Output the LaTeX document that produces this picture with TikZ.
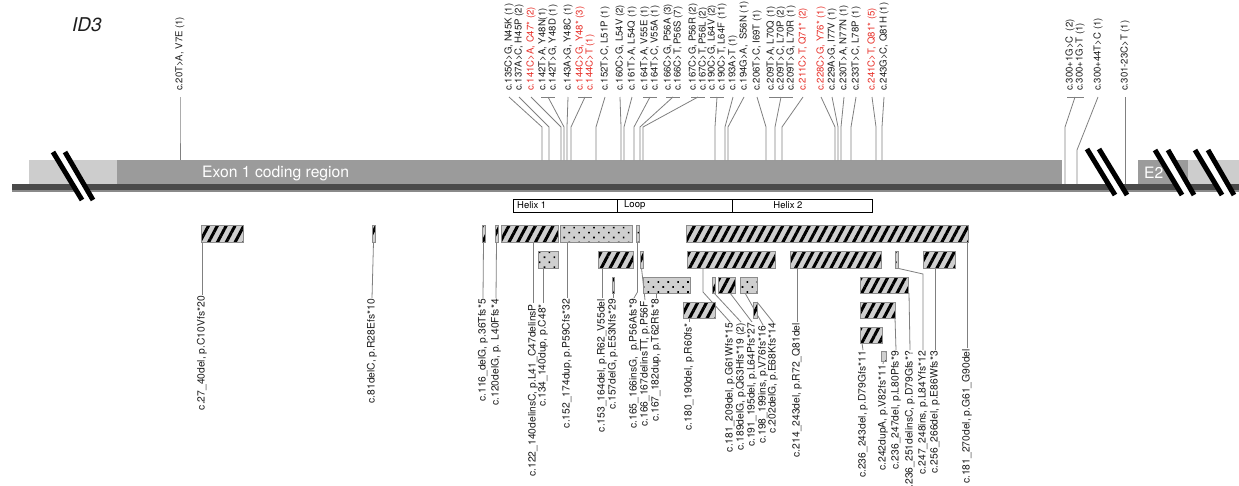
\documentclass[tikz,border=0pt]{standalone}
\usepackage{fontspec}
\setmainfont{TeX Gyre Heros}
\usetikzlibrary{patterns.meta,calc}
\definecolor{bandD}{HTML}{9B9B9B}
\definecolor{bandL}{HTML}{CDCDCD}
\definecolor{baseC}{HTML}{4A4A4A}
\definecolor{baseL}{HTML}{8A8A8A}
\definecolor{leadC}{HTML}{808080}
\definecolor{labC}{HTML}{1E1E1E}
\definecolor{redC}{HTML}{E8312A}
\definecolor{boxF}{HTML}{CFCFCF}
\definecolor{boxB}{HTML}{8C8C8C}
\begin{document}
\begin{tikzpicture}[x=1pt,y=-1pt,
 toplab/.style={rotate=90, anchor=west, inner xsep=6pt, inner ysep=0pt, font=\fontsize{9.6}{11}\selectfont, text=labC},
 redlab/.style={toplab, text=redC},
 botlab/.style={rotate=90, anchor=east, inner xsep=1pt, inner ysep=0pt, font=\fontsize{10.3}{12}\selectfont, text=labC},
 lead/.style={draw=leadC, line width=0.8pt},
 hatchbox/.style={preaction={fill=boxF}, pattern={Lines[angle=62,distance=7.8pt,line width=3pt]}, draw=boxB, line width=0.5pt},
 dotbox/.style={preaction={fill=boxF}, pattern={Dots[angle=45,distance=7pt,radius=1.15pt]}, draw=boxB, line width=0.5pt},
 dombox/.style={draw=black, line width=0.8pt, fill=white},
 domtxt/.style={font=\fontsize{9.5}{11}\selectfont, inner sep=0pt, text=black},
 exontxt/.style={font=\fontsize{15.7}{18}\selectfont, text=white, inner sep=0pt},
 brk/.style={line width=5pt, black},
]
\useasboundingbox (0,0) rectangle (1239,485);
\fill[white] (0,0) rectangle (1239,485);

% ---- gene band ----
\fill[bandL] (29,160) rectangle (117,184);
\fill[bandD] (117,160) rectangle (1062,184);
\fill[bandD] (1138,160) rectangle (1188,184);
\fill[bandL] (1188,160) rectangle (1239,184);
\fill[baseC] (12,184) rectangle (1239,190);
\fill[baseL] (12,190) rectangle (1239,192);
\node[exontxt, anchor=west] (exon) at (202,173) {Exon 1 coding region};
\node[exontxt, anchor=west] (e2) at (1144,173) {E2};
\node[font=\fontsize{19}{22}\selectfont\itshape, anchor=west, inner sep=0pt, text=labC] (title) at (72,25) {ID3};

% ---- domains ----
\draw[dombox] (513,199) rectangle (872,212);
\draw[dombox] (617,199) -- (617,212);
\draw[dombox] (732,199) -- (732,212);
\node[domtxt, anchor=west] (dh1) at (517,205.5) {Helix 1};
\node[domtxt, anchor=west] (dlp) at (624,205.5) {Loop};
\node[domtxt] (dh2) at (788,205.5) {Helix 2};

% ---- top labels ----
\node[toplab] (t1) at (180,97) {c.20T>A, V7E (1)};
\node[toplab] (t2) at (509,97) {c.135C>G, N45K (1)};
\node[toplab] (t3) at (519,97) {c.137A>C, H45P (2)};
\node[redlab] (t4) at (531,97) {c.141C>A, C47* (2)};
\node[toplab] (t5) at (543,97) {c.142T>A, Y48N(1)};
\node[toplab] (t6) at (553,97) {c.142T>G, Y48D (1)};
\node[toplab] (t7) at (568,97) {c.143A>G, Y48C (1)};
\node[redlab] (t8) at (580,97) {c.144C>G, Y48* (3)};
\node[redlab] (t9) at (590,97) {c.144C>T (1)};
\node[toplab] (t10) at (605,97) {c.152T>C, L51P (1)};
\node[toplab] (t11) at (620,97) {c.160C>G, L54V (2)};
\node[toplab] (t12) at (632,97) {c.161T>A, L54Q (1)};
\node[toplab] (t13) at (645,97) {c.164T>A, V55E (1)};
\node[toplab] (t14) at (655,97) {c.164T>C, V55A (1)};
\node[toplab] (t15) at (668,97) {c.166C>G, P56A (3)};
\node[toplab] (t16) at (678,97) {c.166C>T, P56S (7)};
\node[toplab] (t17) at (693,97) {c.167C>G, P56R (2)};
\node[toplab] (t18) at (703,97) {c.167C>T, P56L (2)};
\node[toplab] (t19) at (712,97) {c.190C>G, L64V (2)};
\node[toplab] (t20) at (722,97) {c.190C>T, L64F (11)};
\node[toplab] (t21) at (733,97) {c.193A>T (1)};
\node[toplab] (t22) at (744,97) {c.194G>A, \ S56N (1)};
\node[toplab] (t23) at (757,97) {c.206T>C, I69T (1)};
\node[toplab] (t24) at (771,97) {c.209T>A, L70Q (1)};
\node[toplab] (t25) at (781,97) {c.209T>C, L70P (2)};
\node[toplab] (t26) at (791,97) {c.209T>G, L70R (1)};
\node[redlab] (t27) at (803,97) {c.211C>T, Q71* (2)};
\node[redlab] (t28) at (821,97) {c.228C>G, Y76* (1)};
\node[toplab] (t29) at (832,97) {c.229A>G, I77V (1)};
\node[toplab] (t30) at (844,97) {c.230T>A, N77N (1)};
\node[toplab] (t31) at (856,97) {c.233T>C, L78P (1)};
\node[redlab] (t32) at (872,97) {c.241C>T, Q81* (5)};
\node[toplab] (t33) at (884,97) {c.243G>C, Q81H (1)};
\node[toplab] (t34) at (1070,97) {c.300+1G>C \ (2)};
\node[toplab] (t35) at (1080,97) {c.300+1G>T (1)};
\node[toplab] (t36) at (1098,97) {c.300+44T>C (1)};
\node[toplab] (t37) at (1125,97) {c.301-23C>T (1)};

% band end points
\coordinate (b1) at (180,160);
\coordinate (b2) at (542,160);
\coordinate (b3) at (549,160);
\coordinate (b4) at (561,160);
\coordinate (b5) at (564,160);
\coordinate (b7) at (567,160);
\coordinate (b8) at (571,160);
\coordinate (b10) at (596,160);
\coordinate (b11) at (621,160);
\coordinate (b12) at (624,160);
\coordinate (b13) at (634,160);
\coordinate (b15) at (640,160);
\coordinate (b17) at (643,160);
\coordinate (b19) at (715,160);
\coordinate (b21) at (725,160);
\coordinate (b22) at (728,160);
\coordinate (b23) at (766,160);
\coordinate (b24) at (775,160);
\coordinate (b27) at (782,160);
\coordinate (b28) at (835,160);
\coordinate (b29) at (838,160);
\coordinate (b30) at (841,160);
\coordinate (b31) at (851,160);
\coordinate (b32) at (876,160);
\coordinate (b33) at (882,160);
\coordinate (b34) at (1065,184);
\coordinate (b36) at (1077,184);
\coordinate (b37) at (1125,184);

% single connectors
\foreach \n in {1,2,3,4,7,10,11,12,21,22,23,27,28,29,30,31,32,33}
  \draw[lead] (t\n.west) -- ([yshift=33pt]b\n) -- (b\n);
% grouped connectors
\foreach \a/\b/\c in {5/6/5, 8/9/8, 13/14/13, 15/16/15, 17/18/17, 19/20/19} {
  \draw[lead] ([xshift=-2pt]t\a.west) -- ([xshift=2pt]t\b.west);
  \draw[lead] ($(t\a.west)!0.5!(t\b.west)$) -- ([yshift=33pt]b\c) -- (b\c);
}
\draw[lead] ([xshift=-2pt]t24.west) -- ([xshift=2pt]t26.west);
\draw[lead] (t25.west) -- ([yshift=33pt]b24) -- (b24);
\draw[lead] ([xshift=-3pt]t34.west) -- ([xshift=4pt]t35.west);
\draw[lead] ($(t34.west)!0.5!(t35.west)$) -- ([yshift=57pt]b34) -- (b34);
\draw[lead] (t36.west) -- ([yshift=34pt]b36) -- (b36);
\draw[lead] (t37.west) -- (b37);

% ---- bottom labels ----
\node[botlab] (L1) at (202,295) {c.27\_40del, p.C10Vfs*20};
\node[botlab] (L2) at (372,298) {c.81delC, p.R28Efs*10};
\node[botlab] (L3) at (483,298) {c.116\_delG, p.36Tfs*5};
\node[botlab] (L4) at (496,298) {c.120delG, p. L40Ffs*4};
\node[botlab] (L5) at (533,303) {c.122\_140delinsC, p.L41\_C47delinsP};
\node[botlab] (L6) at (543,303) {c.134\_140dup, p.C48*};
\node[botlab] (L7) at (567,298) {c.152\_174dup, p.P59Cfs*32};
\node[botlab] (L8) at (602,298) {c.153\_164del, p.R62\_V55del};
\node[botlab] (L9) at (613,298) {c.157delG, p.E53Nfs*29};
\node[botlab] (L10) at (634,298) {c.165\_166insG, \ p.P56Afs*9};
\node[botlab] (L11) at (645,300) {c.166\_167delinsTT, p.P56F};
\node[botlab] (L12) at (656,298) {c.167\_182dup, p.T62Rfs*8};
\node[botlab] (L13) at (689,322) {c.180\_190del, p.R60fs*};
\node[botlab] (L14) at (730,322) {c.181\_209del, p.G61Wfs*15};
\node[botlab] (L15) at (741,322) {c.189delG, p.Q63Hfs*19 (2)};
\node[botlab] (L16) at (752,322) {c.191\_195del, p.L64Pfs*27};
\node[botlab] (L17) at (763,325) {c.198\_199ins, p.V76fs*16};
\node[botlab] (L18) at (773,322) {c.202delG, p.E68Kfs*14};
\node[botlab] (L19) at (797,322) {c.214\_243del, p.R72\_Q81del};
\node[botlab] (L20) at (863,350) {c.236\_243del, p.D79Gfs*11};
\node[botlab] (L21) at (883,364) {c.242dupA, p.V82fs*11};
\node[botlab] (L22) at (896,350) {c.236\_247del, p.L80Pfs*9};
\node[botlab] (L23) at (910,350) {c.236\_251delinsC, p.D79Gfs*?};
\node[botlab] (L24) at (923,350) {c.247\_248ins, p.L84Yfs*12};
\node[botlab] (L25) at (935,350) {c.256\_266del, p.E86Wfs*3};
\node[botlab] (L26) at (967,348) {c.181\_270del, p.G61\_G90del};

% box attachment points
\coordinate (a1) at (202,242);
\coordinate (a2) at (373.5,242);
\coordinate (a3) at (483.5,242);
\coordinate (a4) at (496.5,242);
\coordinate (a5) at (533,242);
\coordinate (a6) at (543,268);
\coordinate (a7) at (567,242);
\coordinate (a8) at (602,268);
\coordinate (a9) at (613,293);
\coordinate (a10) at (637.5,242);
\coordinate (a11) at (641.5,268);
\coordinate (a12) at (656,293);
\coordinate (a13) at (689,318);
\coordinate (a14) at (703,268);
\coordinate (a15) at (714,293);
\coordinate (a16) at (730,293);
\coordinate (a17) at (745,293);
\coordinate (a18) at (757,302);
\coordinate (a19) at (797,268);
\coordinate (a20) at (862,343);
\coordinate (a21) at (883.5,361);
\coordinate (a22) at (895,318);
\coordinate (a23) at (909,293);
\coordinate (a24) at (896.5,268);
\coordinate (a25) at (935,268);
\coordinate (a26) at (967,242);

\foreach \n in {1,2,3,4,5,6,7,8,9,11,12,13,15,16,17,18,19,20,21,22,23,25,26}
  \draw[lead] (a\n) -- (L\n.east);
\draw[lead] (a10) -- ([yshift=-50pt]a10) -- (L10.east);
\draw[lead] (a14) -- ([yshift=-24pt]a14) -- (L14.east);
\draw[lead] (a24) -- (923,274) -- (L24.east);

% ---- boxes ----
% row 1
\path[hatchbox] (201,225) rectangle (243,242);
\path[hatchbox] (372,225) rectangle (375,242);
\path[hatchbox] (482,225) rectangle (485,242);
\path[hatchbox] (495,225) rectangle (498,242);
\path[hatchbox] (501,225) rectangle (558,242);
\path[dotbox] (560,225) rectangle (632,242);
\path[dotbox] (636,225) rectangle (639,242);
\path[hatchbox] (686,225) rectangle (968,242);
% row 2
\path[dotbox] (538,251) rectangle (558,268);
\path[hatchbox] (598,251) rectangle (633,268);
\path[hatchbox] (640,251) rectangle (643,268);
\path[hatchbox] (687,251) rectangle (775,268);
\path[hatchbox] (790,251) rectangle (881,268);
\path[dotbox] (895,251) rectangle (898,268);
\path[hatchbox] (923,251) rectangle (955,268);
% row 3
\path[hatchbox] (612,277) rectangle (614.5,293);
\path[dotbox] (643,277) rectangle (690,293);
\path[hatchbox] (712,277) rectangle (715,293);
\path[hatchbox] (718,277) rectangle (735,293);
\path[dotbox] (740,277) rectangle (757,293);
\path[hatchbox] (860,277) rectangle (908,293);
% row 4
\path[hatchbox] (683,302) rectangle (715,318);
\path[hatchbox] (753,302) rectangle (757,318);
\path[hatchbox] (860,302) rectangle (895,318);
% row 5
\path[hatchbox] (860,327) rectangle (882,343);
\path[dotbox] (881,351) rectangle (886,361);

% ---- break marks ----
\fill[white] (53,152) -- (65,152) -- (93,200) -- (82,200) -- cycle;
\draw[brk] (53,152) -- (82,200);
\draw[brk] (65,152) -- (93,200);
\fill[white] (1087,149) -- (1099,149) -- (1127,195) -- (1115,195) -- cycle;
\draw[brk] (1087,149) -- (1115,195);
\draw[brk] (1099,149) -- (1127,195);
\fill[white] (1155,150) -- (1168,150) -- (1194,195) -- (1182,195) -- cycle;
\draw[brk] (1155,150) -- (1182,195);
\draw[brk] (1168,150) -- (1194,195);
\fill[white] (1195,150) -- (1208,150) -- (1234,195) -- (1222,195) -- cycle;
\draw[brk] (1195,150) -- (1222,195);
\draw[brk] (1208,150) -- (1234,195);
\end{tikzpicture}
\end{document}
